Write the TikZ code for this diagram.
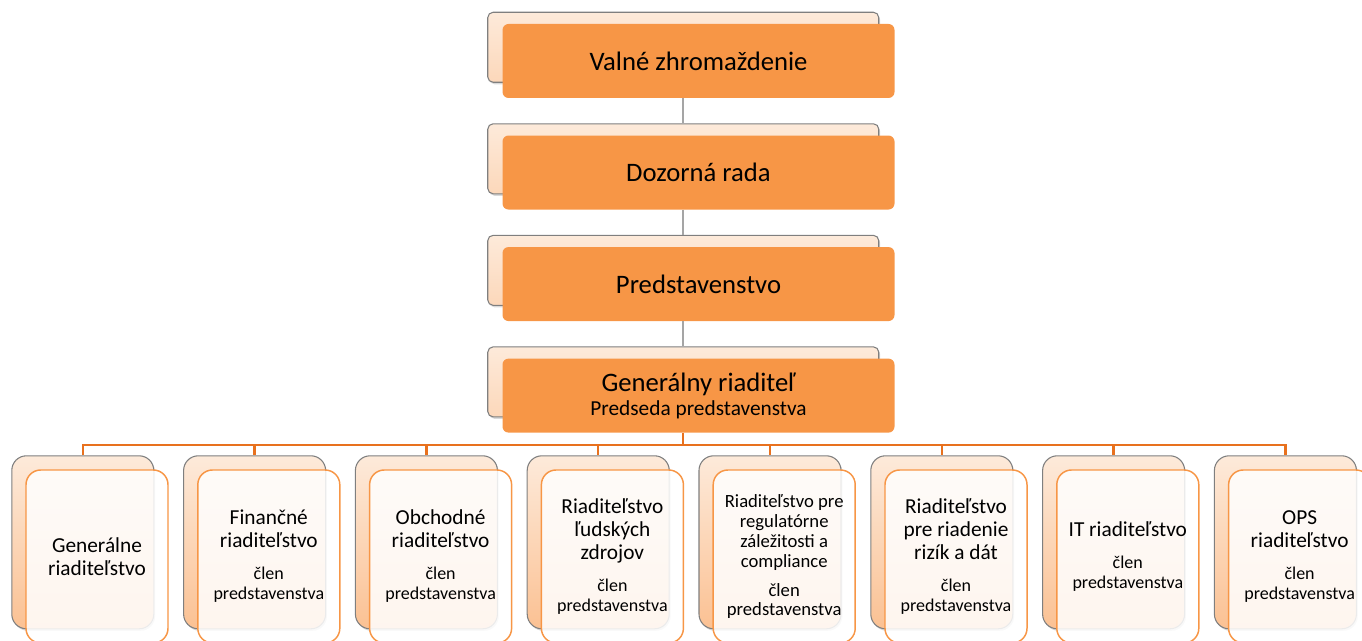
\documentclass[tikz,border=0pt]{standalone}
\usepackage{fontspec}
\setmainfont{Carlito}
\usetikzlibrary{positioning,backgrounds,shadows,calc}

\definecolor{oranzova}{HTML}{F79646}
\definecolor{tmavooranzova}{HTML}{E8711E}
\definecolor{broskyna}{HTML}{FDEADA}
\definecolor{broskyna2}{HTML}{FBC193}
\definecolor{sediva}{HTML}{7F7F7F}
\definecolor{ciara}{HTML}{A5A5A5}

\newcommand{\mensie}{\fontsize{13.5}{15}\selectfont}
\newcommand{\clenpred}{\\[6.75pt]{\mensie člen}\\[-2.25pt]{\mensie predstavenstva}}

\begin{document}
\begin{tikzpicture}[
      x=0.75pt, y=-0.75pt,
      vedenie/.style={rectangle, rounded corners=4.5pt, fill=oranzova,
        minimum width=294pt, minimum height=55.5pt, inner sep=0pt,
        align=center, font=\fontsize{20}{18}\selectfont},
      podklad/.style={rectangle, draw=sediva, line width=0.8pt,
        top color=broskyna, bottom color=broskyna2,
        drop shadow={shadow xshift=1pt, shadow yshift=-1.5pt, opacity=0.3}},
      hornypodklad/.style={podklad, rounded corners=4pt, anchor=north west,
        minimum width=293.25pt, minimum height=52.5pt,
        bottom color=broskyna2!45!broskyna},
      riaditelstvo/.style={rectangle, rounded corners=11pt, draw=oranzova,
        line width=1.1pt, fill=white, fill opacity=0.85, text opacity=1,
        minimum width=106.5pt, minimum height=129.75pt, inner sep=0pt,
        align=center, font=\fontsize{16}{17.25}\selectfont},
      dolnypodklad/.style={podklad, rounded corners=11pt, anchor=north west,
        minimum width=106.5pt, minimum height=129.75pt},
      spojnica/.style={draw=ciara, line width=1.5pt},
      strom/.style={draw=tmavooranzova, line width=1.7pt}
      ]

      \useasboundingbox (0,0) rectangle (1362,641);

      % vedenie spolocnosti
      \node[vedenie] (vz) at (698.5,61) {Valné zhromaždenie};
      \node[vedenie, below=27.75pt of vz] (dr) {Dozorná rada};
      \node[vedenie, below=27.75pt of dr] (pr) {Predstavenstvo};
      \node[vedenie, below=27.75pt of pr] (gr) {Generálny riaditeľ\\{\fontsize{16}{18}\selectfont Predseda predstavenstva}};

      % riaditelstva
      \node[riaditelstvo] (gen) at (97,556.5) {Generálne\\riaditeľstvo};
      \node[riaditelstvo, right=21.25pt of gen] (fin) {Finančné\\riaditeľstvo\clenpred};
      \node[riaditelstvo, right=21.25pt of fin] (obch) {Obchodné\\riaditeľstvo\clenpred};
      \node[riaditelstvo, right=21.25pt of obch] (lz) {Riaditeľstvo\\ľudských\\zdrojov\clenpred};
      \node[riaditelstvo, right=21.25pt of lz, font=\fontsize{14}{15}\selectfont] (reg) {Riaditeľstvo pre\\regulatórne\\záležitosti a\\compliance\\[7pt]člen\\[-1pt]predstavenstva};
      \node[riaditelstvo, right=21.25pt of reg] (riz) {Riaditeľstvo\\pre riadenie\\rizík a dát\clenpred};
      \node[riaditelstvo, right=21.25pt of riz] (it) {IT riaditeľstvo\clenpred};
      \node[riaditelstvo, right=21.25pt of it] (ops) {OPS\\riaditeľstvo\clenpred};

      % podklady
      \begin{scope}[on background layer]
        \foreach \n in {vz,dr,pr,gr}
          \node[hornypodklad] (\n-podklad) at ($(\n.north west)+(-15,-12)$) {};
        \foreach \n in {gen,fin,obch,lz,reg,riz,it,ops}
          \node[dolnypodklad] (\n-podklad) at ($(\n.north west)+(-14,-14)$) {};
      \end{scope}

      % spojnice
      \path[spojnica] (vz.south -| vz-podklad) -- (dr-podklad.north);
      \path[spojnica] (dr.south -| dr-podklad) -- (pr-podklad.north);
      \path[spojnica] (pr.south -| pr-podklad) -- (gr-podklad.north);

      \coordinate (zbernica) at ($(gr.south -| gr-podklad)+(0,12)$);
      \path[strom] (gr.south -| gr-podklad) -- (zbernica);
      \foreach \n in {gen,fin,obch,lz,reg,riz,it,ops}
        \path[strom] (zbernica) -| (\n-podklad.north);
    \end{tikzpicture}
\end{document}
